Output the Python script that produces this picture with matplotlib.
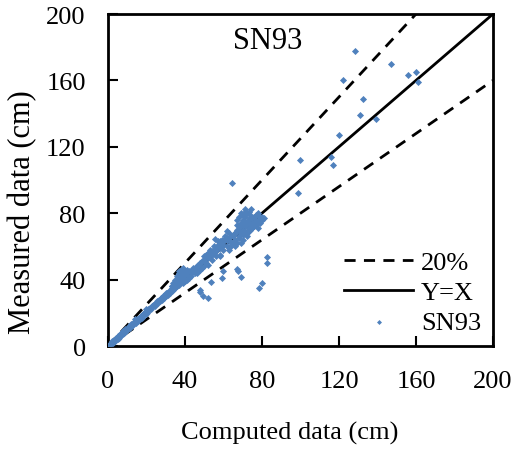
import matplotlib
matplotlib.use("Agg")
import matplotlib.pyplot as plt
import numpy as np

plt.rcParams['font.family'] = ['Liberation Serif', 'DejaVu Serif']

computed = [0.5,1,1.5,2,2.5,3,3,3.5,4,4.5,5,5,5.5,6,6.5,7,7,7.5,8,8,8.5,9,9.5,10,10,10.5,11,11.5,12,12.5,13,13.5,14,14.5,15,15.5,16,16.5,17,17.5,18,18.5,19,19.5,20,20.5,21,21.5,22,22.5,23,23.5,24,24.5,25,25.5,26,26.5,27,27.5,28,28.5,29,29.5,30,30.5,31,31.5,32,32.5,33,33.5,34,34.5,35,35.5,36,36.5,37,37.5,38,38.5,39,39.5,40,40.5,36,37,38,35,34,33,39,40,41,42,43,44,45,46,47,48,49,50,51,52,43,45,47,49,41,44,46,48,50,52,54,55,56,57,58,59,60,61,62,63,58,60,56,54,53,62,64,65,66,67,68,69,70,71,72,73,74,75,76,77,78,79,80,70,71,72,73,74,75,76,77,78,79,80,68,69,70,72,74,76,66,67,68,70,71,73,75,77,65,64,63,66,69,72,73,70,71,68,67,69,63,61,62,59,57,55,53,52,51,50,37,38,39,
            2,4,6,8,12,14,16,18,20,22,24,26,28,30,32,34,36,38,33,35,37,39,41,43,45,47,42,44,46,48,50,52,54,56,58,60,62,64,66,68,70,72,74,76,78,80,69,71,73,75,77,79,81,72,74,76,78,67,70,73,65,62,60,57,55,
            47.8,49.2,51.8,47.8,59.4,69.3,66.8,58,67.7,82.4,82.6,80,78.4,53.5,60,64.4,74.3,71,58,55.5,
            98.9,99.6,115.7,116.7,120,122,128.3,131,132.5,139,147,156,160,161]
measured = [0.8,1.5,1,2.5,2,3.5,2.5,4,3.5,5,4.5,6,5,6.5,6,7.5,6.5,8,7.5,9,8,10,9,10.5,9.5,11,12,11,12.5,13.5,12.5,14,15,14,16,15,17,16,18,17,19,18.5,20,19,21,20,22,21.5,23,22,24,24.5,25,24,26,27,26,28,27,29,28,30,29,31,30,32,31,33,32,34,33,35,34,36,35,37,36,38,37,39,40,42,44,41,43,45,42,44,46,40,38,36,38,39,40,41,44,46,47,48,49,50,51,52,50,53,42,44,45,47,46,45,44,46,48,49,52,56,58,60,62,60,63,64,65,64,55,58,54,57,55,60,62,66,68,70,72,74,76,78,80,81,79,77,78,79,80,78,77,70,72,74,75,73,74,75,76,75,74,76,66,68,67,68,70,72,64,62,65,64,69,71,71,73,62,60,58,60,62,66,70,79,81,78,76,80,68,66,69,64,63,60,58,56,55,54,45,46,47,
            3,5,7,9,13,16,17,19,22,23,25,27,29,32,33,36,38,41,36,38,40,42,43,45,46,48,45,47,48,50,51,54,55,57,59,61,64,66,68,70,73,75,77,78,79,78,72,74,76,77,75,76,77,68,70,72,71,73,75,69,66,64,63,61,58,
            33.9,30.3,28.9,32.3,41,41.7,46.4,54,45.4,53.4,49.8,37.8,34.7,38.4,45.4,98,82.5,82.5,63.4,64.5,
            92,112,114,109,127,160,178,139,149,137,170,163,165,159]

ref = np.array([0, 200])

fig = plt.figure(figsize=(5.28, 4.52), dpi=100)
ax = fig.add_axes([0.2045, 0.2323, 0.7292, 0.7345])

ax.plot(ref, ref / 0.8, color='black', lw=2, ls=(0, (4, 3)), label='20%')
ax.plot(ref, ref * 0.8, color='black', lw=2, ls=(0, (4, 3)))
ax.plot(ref, ref, color='black', lw=2, label='Y=X')
ax.scatter(computed, measured, marker='D', s=13, color='#4F81BD', linewidths=0, label='SN93', zorder=3)

ax.set_xlim(0, 200)
ax.set_ylim(0, 200)
ax.set_xticks([0, 40, 80, 120, 160, 200])
ax.set_yticks([0, 40, 80, 120, 160, 200])
ax.tick_params(direction='in', length=7, width=1.5, labelsize=19)
ax.tick_params(axis='x', pad=17)
ax.tick_params(axis='y', pad=16)
for s in ax.spines.values():
    s.set_linewidth(2)

ax.set_xlabel('Computed data (cm)', fontsize=19)
ax.xaxis.set_label_coords(0.473, -0.226)
ax.set_ylabel('Measured data (cm)', fontsize=22)
ax.yaxis.set_label_coords(-0.184, 0.407)
ax.text(83, 184, 'SN93', fontsize=22, ha='center', va='center')

leg = ax.legend(loc='lower right', frameon=False, fontsize=19, handlelength=2.6,
                handletextpad=0.3, labelspacing=0.25, borderaxespad=0.05, markerscale=0.7)

fig.savefig('out.png', dpi=100)
